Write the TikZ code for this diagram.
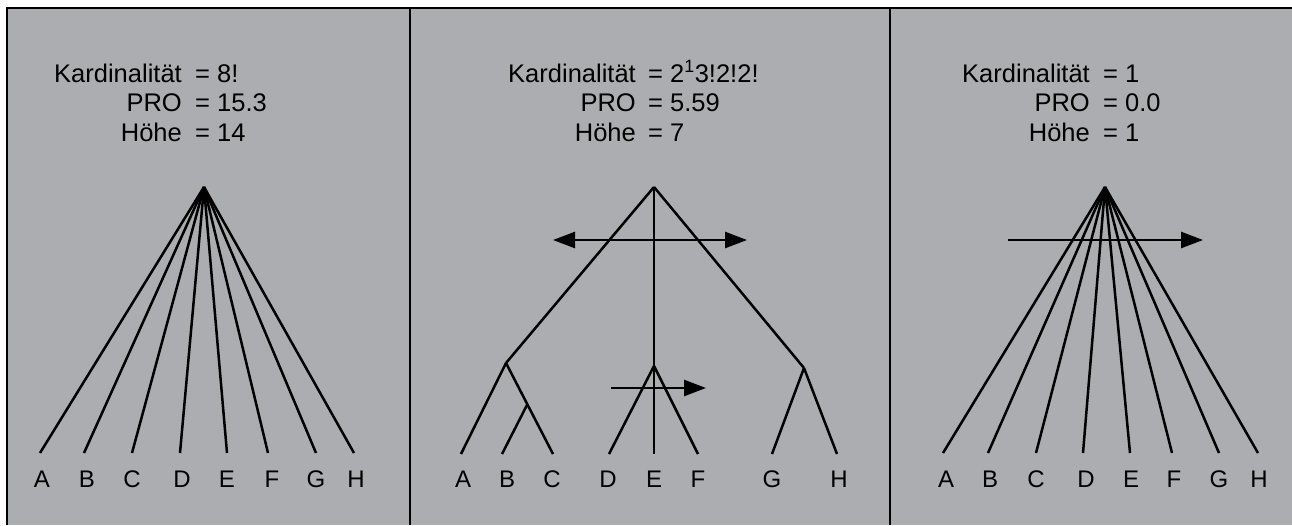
\documentclass[tikz,border=0pt]{standalone}
\usepackage{fontspec}
\setmainfont{Liberation Sans}
\usetikzlibrary{arrows.meta}

\definecolor{panelgray}{RGB}{172,173,177}

\tikzset{
  edge/.style={line width=2.5pt, black, line cap=butt},
  frame/.style={line width=2pt, black},
  flow/.style={line width=2.5pt, black, -{Triangle[length=22pt,width=16pt]}},
  flowboth/.style={line width=2.5pt, black, {Triangle[length=22pt,width=16pt]}-{Triangle[length=22pt,width=16pt]}},
  leaflabel/.style={anchor=base, inner sep=0pt, font=\fontsize{24}{28}\selectfont},
  keytext/.style={anchor=base east, inner sep=0pt, font=\fontsize{25.5}{30}\selectfont},
  valtext/.style={anchor=base west, inner sep=0pt, font=\fontsize{25.5}{30}\selectfont},
}

\begin{document}
\begin{tikzpicture}[x=1pt, y=-1pt]
  \useasboundingbox (0,0) rectangle (1292,525);

  % background panels and frame
  \fill[panelgray] (7,8) rectangle (1292,525);
  \draw[frame] (7,525) -- (7,8) -- (1292,8);
  \draw[frame] (410,8) -- (410,525);
  \draw[frame] (890,8) -- (890,525);

  % ---------- left panel: flat tree ----------
  \node[keytext] (k1) at (182,82) {Kardinalität};
  \node[valtext] (v1) at (195,82) {= 8!};
  \node[keytext] (p1) at (182,111) {PRO};
  \node[valtext] (w1) at (195,111) {= 15.3};
  \node[keytext] (h1) at (182,141) {Höhe};
  \node[valtext] (u1) at (195,141) {= 14};

  \coordinate (r1) at (204,187);
  \foreach \name/\lx/\ex in {A/42/40, B/87/84, C/132/132, D/182/180, E/227/227, F/272/268, G/316/316, H/356/354}{
    \node[leaflabel] (L1\name) at (\lx,487) {\name};
    \coordinate (e1\name) at (\ex,453);
    \draw[edge] (r1) -- (e1\name);
  }

  % ---------- middle panel: structured tree ----------
  \node[keytext] (k2) at (636,82) {Kardinalität};
  \node[valtext] (v2) at (648,82) {= 2\textsuperscript{1}3!2!2!};
  \node[keytext] (p2) at (636,111) {PRO};
  \node[valtext] (w2) at (648,111) {= 5.59};
  \node[keytext] (h2) at (636,141) {Höhe};
  \node[valtext] (u2) at (648,141) {= 7};

  \coordinate (r2) at (654,187);
  \coordinate (n2a) at (506,363);
  \coordinate (n2b) at (527,405);
  \coordinate (n2c) at (654,366);
  \coordinate (n2d) at (804,368);
  \foreach \name/\lx/\ex in {A/463/461, B/507/502, C/552/553, D/608/609, E/654/654, F/698/698, G/772/772, H/839/837}{
    \node[leaflabel] (L2\name) at (\lx,487) {\name};
    \coordinate (e2\name) at (\ex,454);
  }
  \draw[edge] (r2) -- (n2a);
  \draw[edge] (r2) -- (n2d);
  \draw[edge] (r2) -- (e2E);
  \draw[edge] (n2a) -- (e2A);
  \draw[edge] (n2a) -- (e2C);
  \draw[edge] (n2b) -- (e2B);
  \draw[edge] (n2c) -- (e2D);
  \draw[edge] (n2c) -- (e2F);
  \draw[edge] (n2d) -- (e2G);
  \draw[edge] (n2d) -- (e2H);

  \coordinate (s2a) at (553,240);
  \coordinate (t2a) at (747,240);
  \draw[flowboth] (s2a) -- (t2a);
  \coordinate (s2b) at (611,388);
  \coordinate (t2b) at (706,388);
  \draw[flow] (s2b) -- (t2b);

  % ---------- right panel: flat tree with one order ----------
  \node[keytext] (k3) at (1090,82) {Kardinalität};
  \node[valtext] (v3) at (1103,82) {= 1};
  \node[keytext] (p3) at (1090,111) {PRO};
  \node[valtext] (w3) at (1103,111) {= 0.0};
  \node[keytext] (h3) at (1090,141) {Höhe};
  \node[valtext] (u3) at (1103,141) {= 1};

  \coordinate (r3) at (1105,187);
  \foreach \name/\lx/\ex in {A/946/943, B/990/988, C/1036/1036, D/1086/1083, E/1131/1130, F/1174/1172, G/1219/1219, H/1259/1258}{
    \node[leaflabel] (L3\name) at (\lx,487) {\name};
    \coordinate (e3\name) at (\ex,453);
    \draw[edge] (r3) -- (e3\name);
  }
  \coordinate (s3) at (1008,240);
  \coordinate (t3) at (1203,240);
  \draw[flow] (s3) -- (t3);
\end{tikzpicture}
\end{document}
